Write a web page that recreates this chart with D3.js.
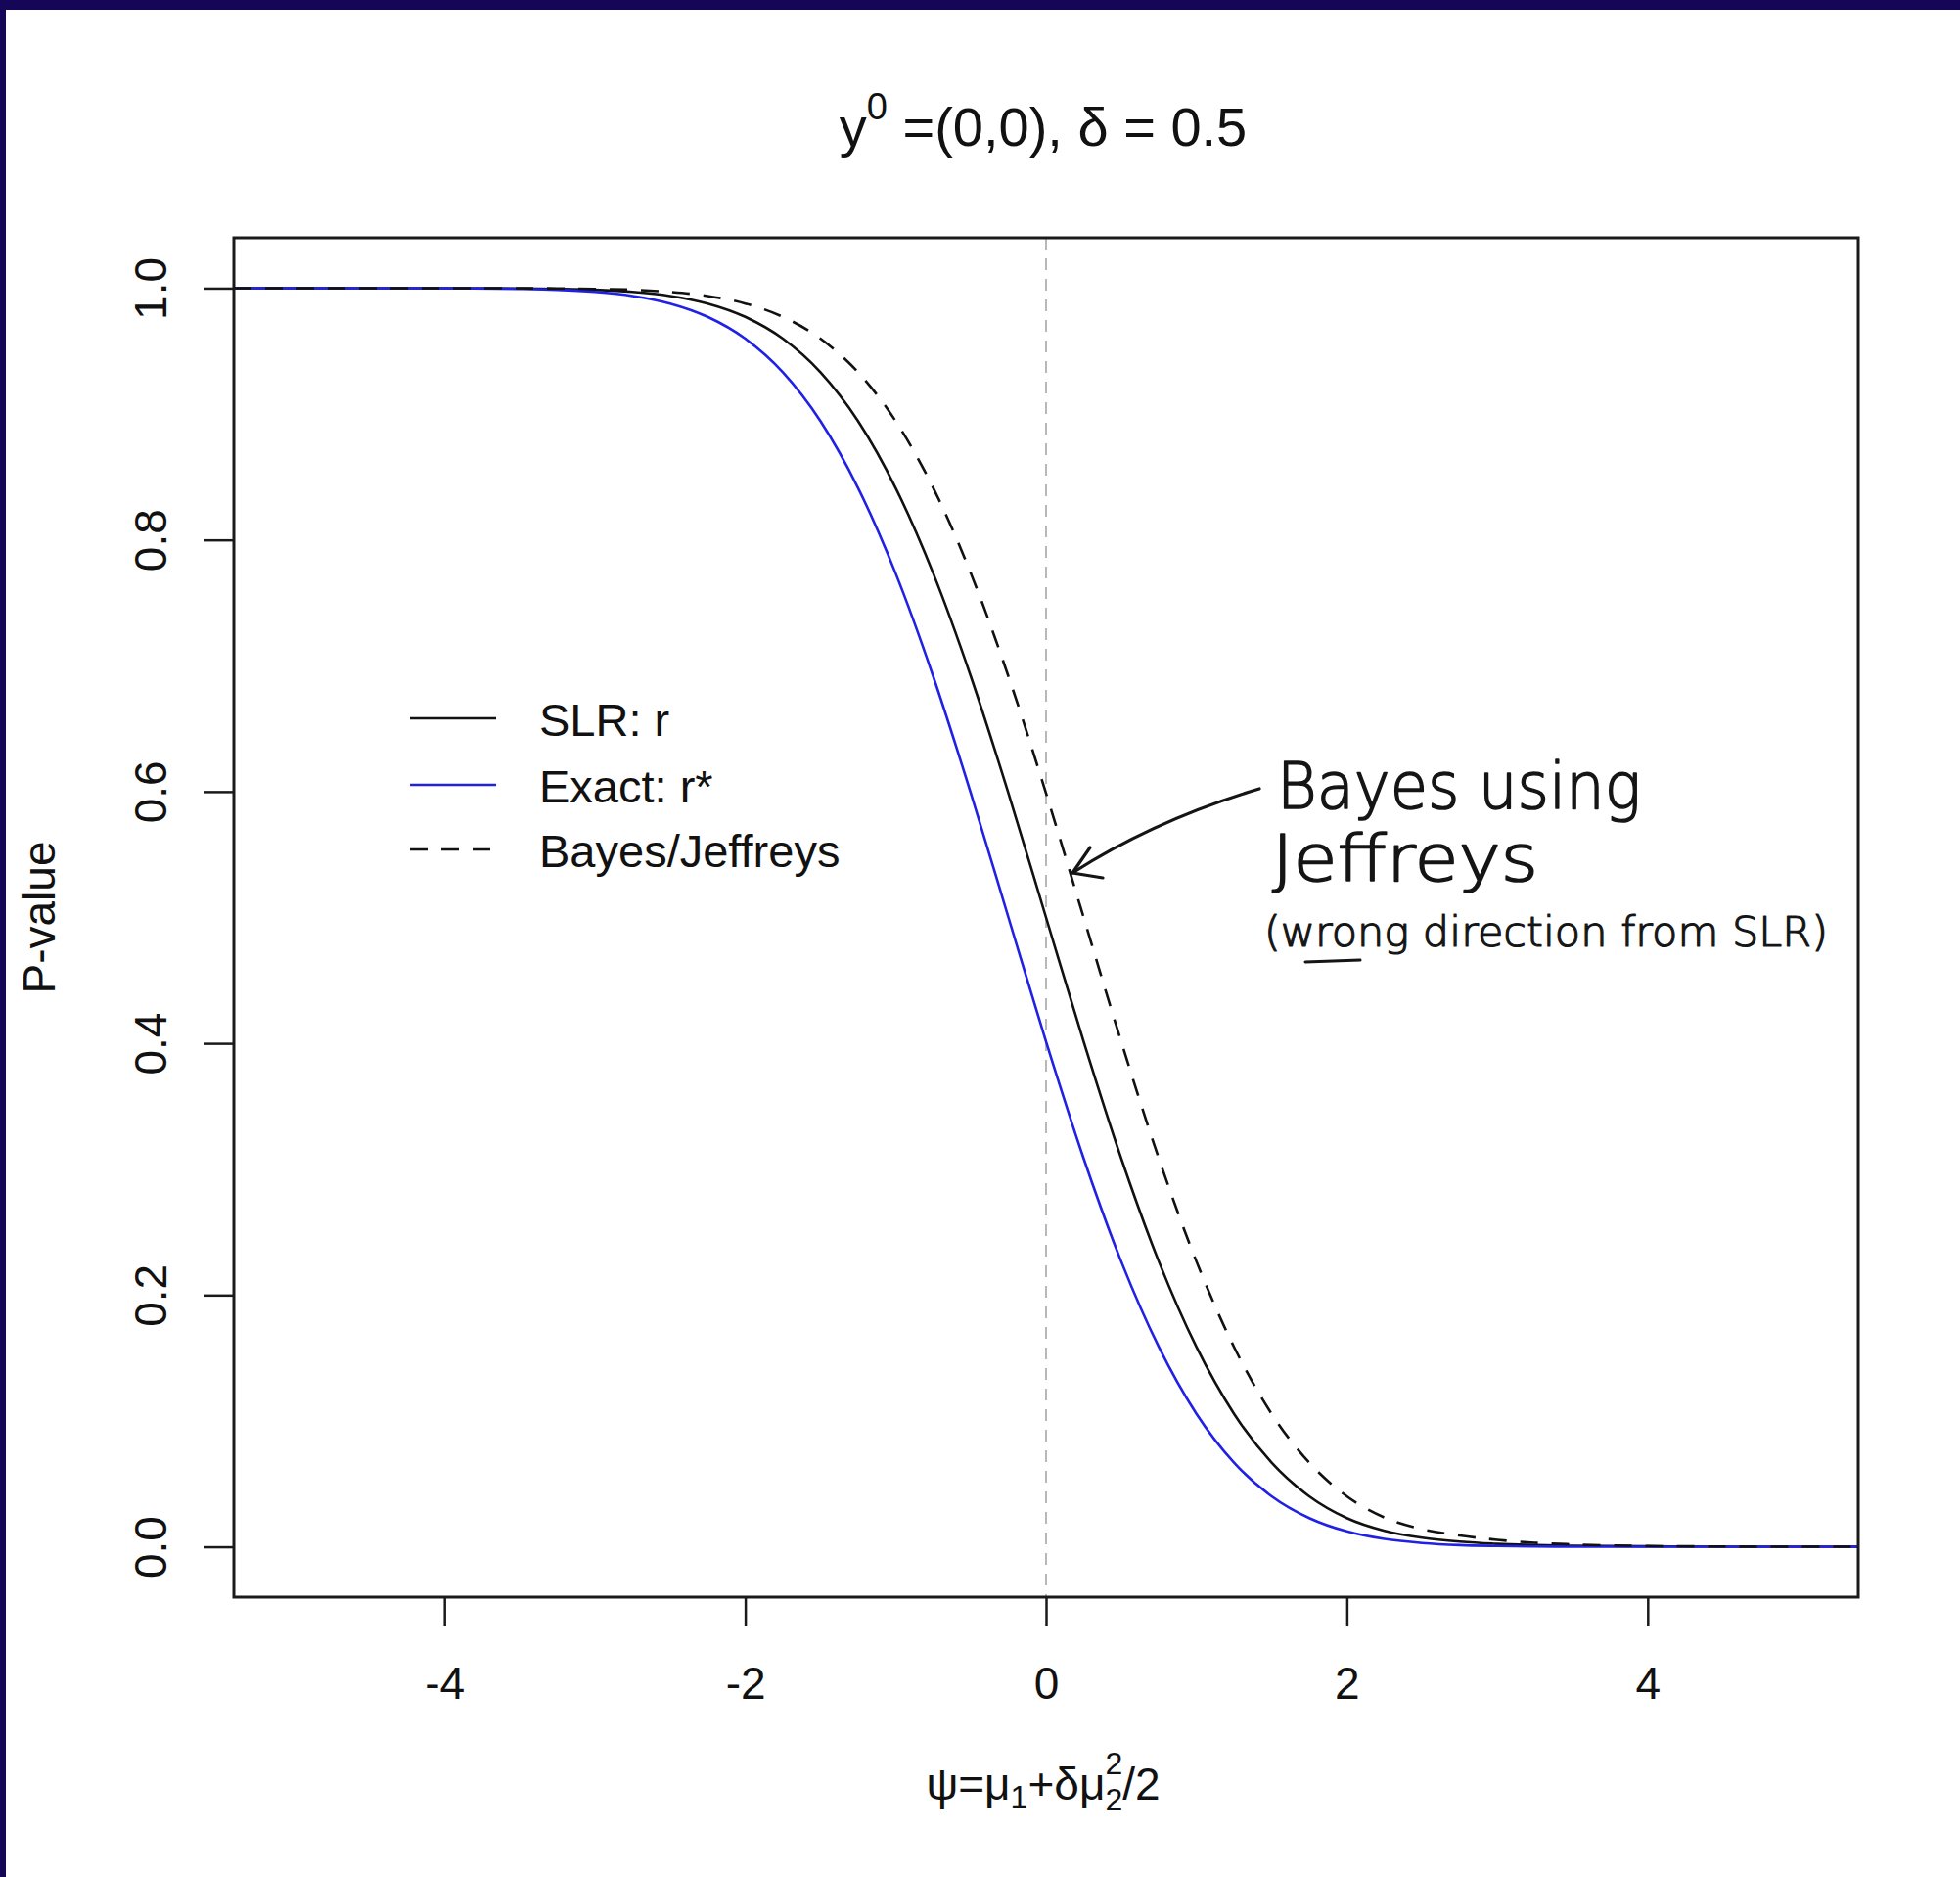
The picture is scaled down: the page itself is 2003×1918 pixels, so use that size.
<!DOCTYPE html>
<html>
<head>
<meta charset="utf-8">
<script src="https://cdn.jsdelivr.net/npm/d3@7"></script>
<style>
  html, body { margin: 0; padding: 0; background: #ffffff; }
  svg { display: block; }
</style>
</head>
<body>
<svg id="chart" width="2003" height="1918"></svg>
<script>
// Interest parameter grid and the three p-value functions
const psi = [-5.4, -5, -4.5, -4, -3.5, -3.25, -3, -2.75, -2.5, -2.25, -2, -1.75, -1.5, -1.25, -1,
  -0.75, -0.5, -0.25, 0, 0.25, 0.5, 0.75, 1, 1.25, 1.5, 1.75, 2, 2.25, 2.5, 2.75, 3, 3.25, 3.5, 4, 4.5, 5, 5.4];

const slrR = [1, 1, 1, 1, 0.9998, 0.9994, 0.9987, 0.9970, 0.9938, 0.9878, 0.9772, 0.9599, 0.9332, 0.8944, 0.8413,
  0.7734, 0.6915, 0.5987, 0.5000, 0.4013, 0.3085, 0.2266, 0.1587, 0.1056, 0.0668, 0.0401, 0.0228, 0.0127, 0.0072, 0.0041,
  0.0023, 0.0014, 0.0008, 0.0003, 0.0001, 0, 0];

const exactRStar = [1, 1, 1, 0.9999, 0.9994, 0.9987, 0.9970, 0.9938, 0.9878, 0.9772, 0.9599, 0.9332, 0.8944, 0.8413, 0.7734,
  0.6915, 0.5987, 0.5000, 0.4013, 0.3085, 0.2266, 0.1587, 0.1056, 0.0668, 0.0401, 0.0228, 0.0122, 0.0062, 0.0030, 0.0013,
  0.0006, 0.0002, 0.0001, 0, 0, 0, 0];

const bayesJeffreys = [1, 1, 1, 1, 0.9999, 0.9998, 0.9994, 0.9987, 0.9970, 0.9938, 0.9878, 0.9772, 0.9599, 0.9332, 0.8944,
  0.8413, 0.7734, 0.6915, 0.5987, 0.5000, 0.4013, 0.3085, 0.2266, 0.1587, 0.1056, 0.0668, 0.0401, 0.0232, 0.0140, 0.0090,
  0.0055, 0.0032, 0.0019, 0.0006, 0.0002, 0, 0];

const xTicks = [-4, -2, 0, 2, 4];
const yTicks = [0, 0.2, 0.4, 0.6, 0.8, 1.0];
const legendLabels = ["SLR: r", "Exact: r*", "Bayes/Jeffreys"];
const noteLines = ["Bayes using", "Jeffreys", "(wrong direction from SLR)"];

const svg = d3.select("#chart");
const W = 2003, H = 1918;
const box = { left: 239, right: 1899, top: 243, bottom: 1632 };
const FONT = "'Liberation Sans', Arial, Helvetica, sans-serif";

// outer frame bands
svg.append("rect").attr("x", 0).attr("y", 0).attr("width", W).attr("height", H).attr("fill", "#ffffff");
svg.append("rect").attr("x", 0).attr("y", 0).attr("width", W).attr("height", 10).attr("fill", "#150657");
svg.append("rect").attr("x", 0).attr("y", 0).attr("width", 6).attr("height", H).attr("fill", "#150657");

const x = d3.scaleLinear().domain([-5.4, 5.4]).range([box.left, box.right]);
const y = d3.scaleLinear().domain([-0.04, 1.04]).range([box.bottom, box.top]);

svg.append("clipPath").attr("id", "plotClip")
  .append("rect").attr("x", box.left).attr("y", box.top)
  .attr("width", box.right - box.left).attr("height", box.bottom - box.top);

const plot = svg.append("g").attr("clip-path", "url(#plotClip)");

// reference line at psi = 0
plot.append("line")
  .attr("x1", x(0)).attr("x2", x(0)).attr("y1", box.top).attr("y2", box.bottom)
  .attr("stroke", "#b8b8b8").attr("stroke-width", 2).attr("stroke-dasharray", "12,9");

const line = d3.line().x(d => x(d[0])).y(d => y(d[1])).curve(d3.curveMonotoneX);
const series = [
  { vals: slrR, color: "#111111", dash: null },
  { vals: exactRStar, color: "#2121e6", dash: null },
  { vals: bayesJeffreys, color: "#111111", dash: "18,14" }
];
series.forEach(s => {
  plot.append("path")
    .datum(psi.map((p, i) => [p, s.vals[i]]))
    .attr("d", line)
    .attr("fill", "none")
    .attr("stroke", s.color)
    .attr("stroke-width", 2.6)
    .attr("stroke-dasharray", s.dash);
});

// plot box
svg.append("rect")
  .attr("x", box.left).attr("y", box.top)
  .attr("width", box.right - box.left).attr("height", box.bottom - box.top)
  .attr("fill", "none").attr("stroke", "#1a1a1a").attr("stroke-width", 3);

// x axis
const xAxis = svg.append("g")
  .attr("transform", `translate(0,${box.bottom})`)
  .call(d3.axisBottom(x).tickValues(xTicks).tickSize(30).tickSizeOuter(0).tickPadding(41)
    .tickFormat(d => String(d)));
xAxis.select(".domain").remove();
xAxis.selectAll(".tick line").attr("stroke", "#1a1a1a").attr("stroke-width", 2.5);
xAxis.selectAll(".tick text").attr("font-family", FONT).attr("font-size", 46).attr("fill", "#111");

// y axis with labels reading upward
const yAxis = svg.append("g")
  .attr("transform", `translate(${box.left},0)`)
  .call(d3.axisLeft(y).tickValues(yTicks).tickSize(31).tickSizeOuter(0).tickFormat(d3.format(".1f")));
yAxis.select(".domain").remove();
yAxis.selectAll(".tick line").attr("stroke", "#1a1a1a").attr("stroke-width", 2.5);
yAxis.selectAll(".tick text")
  .attr("x", null).attr("dy", null).attr("y", null)
  .attr("text-anchor", "middle")
  .attr("transform", `translate(${170 - box.left},0) rotate(-90)`)
  .attr("font-family", FONT).attr("font-size", 46).attr("fill", "#111");

// title
const title = svg.append("text")
  .attr("x", 1066).attr("y", 149).attr("text-anchor", "middle")
  .attr("font-family", FONT).attr("font-size", 56).attr("fill", "#111");
title.append("tspan").text("y");
title.append("tspan").attr("font-size", 38).attr("dy", -27).text("0");
title.append("tspan").attr("dy", 27).text(" =(0,0), \u03b4 = 0.5");

// axis titles
const xt = svg.append("text")
  .attr("x", 1066).attr("y", 1839).attr("text-anchor", "middle")
  .attr("font-family", FONT).attr("font-size", 46).attr("fill", "#111");
xt.append("tspan").text("\u03c8=\u03bc");
xt.append("tspan").attr("font-size", 32).attr("dy", 8).text("1");
xt.append("tspan").attr("dy", -8).text("+\u03b4\u03bc");
xt.append("tspan").attr("font-size", 32).attr("dy", -26).text("2");
xt.append("tspan").attr("font-size", 32).attr("dx", -17.8).attr("dy", 37).text("2");
xt.append("tspan").attr("dy", -11).text("/2");

svg.append("text")
  .attr("transform", `translate(56,${(box.top + box.bottom) / 2}) rotate(-90)`)
  .attr("text-anchor", "middle")
  .attr("font-family", FONT).attr("font-size", 46).attr("fill", "#111")
  .text("P-value");

// legend
const legendRows = [734, 802, 868];
legendLabels.forEach((lab, i) => {
  const s = series[i];
  svg.append("line")
    .attr("x1", 419).attr("x2", 507).attr("y1", legendRows[i]).attr("y2", legendRows[i])
    .attr("stroke", s.color).attr("stroke-width", 2.6).attr("stroke-dasharray", s.dash);
  svg.append("text")
    .attr("x", 551).attr("y", legendRows[i] + 18)
    .attr("font-family", FONT).attr("font-size", 47).attr("fill", "#111")
    .text(lab);
});

// hand-written note with arrow toward the Bayes curve
const HAND = "'DejaVu Sans', sans-serif";
const noteSpecs = [
  { x: 1305, y: 826, len: 372, size: 66, sw: 1.6 },
  { x: 1300, y: 900, len: 272, size: 66, sw: 1.6 },
  { x: 1292, y: 967, len: 576, size: 42, sw: 1.2 }
];
noteLines.forEach((t, i) => {
  const n = noteSpecs[i];
  svg.append("text")
    .attr("x", n.x).attr("y", n.y)
    .attr("textLength", n.len).attr("lengthAdjust", "spacingAndGlyphs")
    .attr("font-family", HAND).attr("font-weight", 200).attr("font-size", n.size)
    .attr("fill", "#151515").attr("stroke", "#151515").attr("stroke-width", n.sw)
    .attr("stroke-linejoin", "round")
    .text(t);
});
// underline beneath "wrong"
svg.append("path")
  .attr("d", "M1334,983 L1390,981")
  .attr("fill", "none").attr("stroke", "#151515").attr("stroke-width", 3).attr("stroke-linecap", "round");

const tip = [1096, 892];
svg.append("path")
  .attr("d", `M1287,806 Q1180,838 ${tip[0]},${tip[1]}`)
  .attr("fill", "none").attr("stroke", "#151515").attr("stroke-width", 3.2).attr("stroke-linecap", "round");
svg.append("path")
  .attr("d", `M1114,866 L${tip[0]},${tip[1]} L1127,897`)
  .attr("fill", "none").attr("stroke", "#151515").attr("stroke-width", 3.2)
  .attr("stroke-linecap", "round").attr("stroke-linejoin", "round");
</script>
</body>
</html>
